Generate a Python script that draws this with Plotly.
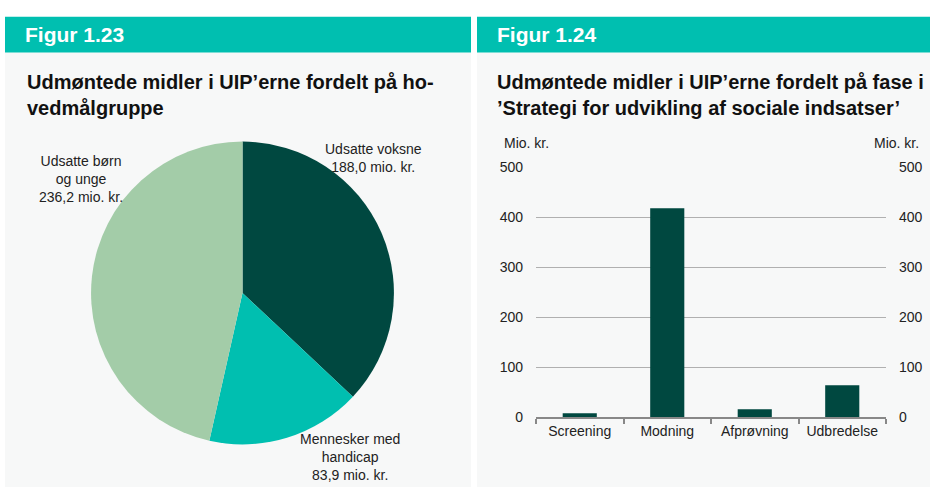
import plotly.graph_objects as go

W, H = 930, 495

# ---------- data ----------
pie_labels = ["Udsatte voksne", "Mennesker med handicap", "Udsatte børn og unge"]
pie_values = [188.0, 83.9, 236.2]
pie_texts = ["Udsatte voksne<br>188,0 mio. kr.",
             "Mennesker med<br>handicap<br>83,9 mio. kr.",
             "Udsatte børn<br>og unge<br>236,2 mio. kr."]
pie_colors = ["#004840", "#00BFB0", "#A3CCA8"]

bar_categories = ["Screening", "Modning", "Afprøvning", "Udbredelse"]
bar_values = [8, 418, 16, 64]
y_ticks = [0, 100, 200, 300, 400, 500]

header_left = "Figur 1.23"
header_right = "Figur 1.24"
title_left = "Udmøntede midler i UIP’erne fordelt på ho-<br>vedmålgruppe"
title_right = "Udmøntede midler i UIP’erne fordelt på fase i<br>’Strategi for udvikling af sociale indsatser’"
unit = "Mio. kr."

FONT = "Liberation Sans, Arial, Helvetica, sans-serif"
TEAL = "#00BFB0"
PANEL = "#F7F8F8"
DARK = "#004840"


def px(x):
    return x / W


def py(y):
    return 1 - y / H


fig = go.Figure()

# Pie
fig.add_trace(go.Pie(
    labels=pie_labels, values=pie_values, sort=False, direction="clockwise",
    rotation=0, textinfo="none", hoverinfo="label+value",
    marker=dict(colors=pie_colors, line=dict(width=0)),
    domain=dict(x=[px(86), px(399)], y=[py(451), py(138)]),
    showlegend=False,
))

# Bars
fig.add_trace(go.Bar(
    x=bar_categories, y=bar_values, marker=dict(color=DARK, line=dict(width=0)),
    xaxis="x", yaxis="y", showlegend=False, width=0.39,
))
# invisible trace for right axis
fig.add_trace(go.Scatter(
    x=bar_categories, y=bar_values, mode="markers", marker=dict(opacity=0),
    xaxis="x", yaxis="y2", showlegend=False, hoverinfo="skip",
))

shapes = [
    # panel backgrounds
    dict(type="rect", xref="paper", yref="paper", x0=px(5), x1=px(471), y0=py(495), y1=py(46),
         fillcolor=PANEL, line=dict(width=0), layer="below"),
    dict(type="rect", xref="paper", yref="paper", x0=px(477), x1=px(930), y0=py(495), y1=py(46),
         fillcolor=PANEL, line=dict(width=0), layer="below"),
    # headers
    dict(type="rect", xref="paper", yref="paper", x0=px(5), x1=px(471), y0=py(46), y1=py(9),
         fillcolor=TEAL, line=dict(width=0), layer="below"),
    dict(type="rect", xref="paper", yref="paper", x0=px(477), x1=px(930), y0=py(46), y1=py(9),
         fillcolor=TEAL, line=dict(width=0), layer="below"),
]

annotations = [
    dict(text=f"<b>{header_left}</b>", x=px(23), y=py(27.5), xanchor="left", yanchor="middle",
         font=dict(size=21, color="white", family=FONT)),
    dict(text=f"<b>{header_right}</b>", x=px(495), y=py(27.5), xanchor="left", yanchor="middle",
         font=dict(size=21, color="white", family=FONT)),
    dict(text=f"<b>{title_left}</b>", x=px(25), y=py(63), xanchor="left", yanchor="top", align="left",
         font=dict(size=20, color="#111", family=FONT)),
    dict(text=f"<b>{title_right}</b>", x=px(495), y=py(63), xanchor="left", yanchor="top", align="left",
         font=dict(size=20, color="#111", family=FONT)),
    # pie labels
    dict(text=pie_texts[0], x=px(373), y=py(155), xanchor="center", yanchor="middle", align="center",
         font=dict(size=14, color="#222", family=FONT)),
    dict(text=pie_texts[1], x=px(350), y=py(464), xanchor="center", yanchor="middle", align="center",
         font=dict(size=14, color="#222", family=FONT)),
    dict(text=pie_texts[2], x=px(81), y=py(177), xanchor="center", yanchor="middle", align="center",
         font=dict(size=14, color="#222", family=FONT)),
    # units
    dict(text=unit, x=px(502), y=py(139), xanchor="left", yanchor="middle",
         font=dict(size=14, color="#222", family=FONT)),
    dict(text=unit, x=px(921), y=py(139), xanchor="right", yanchor="middle",
         font=dict(size=14, color="#222", family=FONT)),
]
for a in annotations:
    a.update(xref="paper", yref="paper", showarrow=False)

fig.update_layout(
    width=W, height=H, margin=dict(l=0, r=0, t=0, b=0),
    paper_bgcolor="white", plot_bgcolor="rgba(0,0,0,0)",
    font=dict(family=FONT, size=14, color="#222"),
    shapes=shapes, annotations=annotations, bargap=0.61,
    xaxis=dict(domain=[px(536), px(886)], showline=True, linecolor="#888", linewidth=1.5,
               ticks="outside", tickson="boundaries", ticklen=5, tickcolor="#888", tickwidth=1.5,
               showgrid=False, fixedrange=True, anchor="y",
               tickfont=dict(size=14, color="#222", family=FONT)),
    yaxis=dict(domain=[py(423), py(164.7)], range=[0, 500], tickvals=y_ticks,
               showgrid=True, gridcolor="#B0B0B0", gridwidth=1, zeroline=False,
               showline=False, ticks="", ticklabelstandoff=12, anchor="x",
               tickfont=dict(size=14, color="#222", family=FONT)),
    yaxis2=dict(domain=[py(423), py(164.7)], range=[0, 500], tickvals=y_ticks,
                overlaying="y", side="right", showgrid=False, zeroline=False, showline=False,
                ticks="", ticklabelstandoff=12, anchor="x",
                tickfont=dict(size=14, color="#222", family=FONT)),
)

fig.write_html(
    "out.html",
    config={"displayModeBar": False},
    post_script="document.body.style.margin='0';document.body.style.padding='0';"
                "document.body.style.overflow='hidden';",
)
